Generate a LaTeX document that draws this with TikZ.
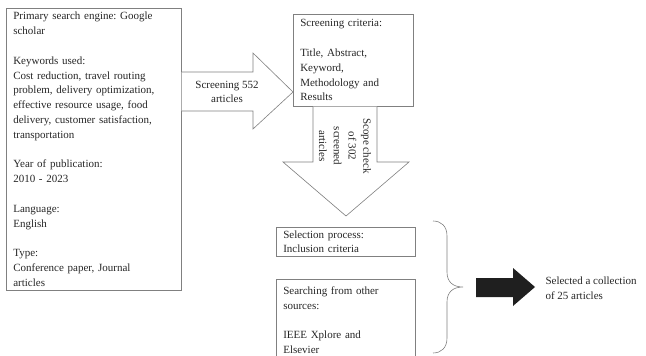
\documentclass[tikz,border=0pt]{standalone}
\usepackage{fontspec}
\setmainfont{Liberation Serif}
\usetikzlibrary{calc}
\frenchspacing
\tikzset{
	box/.style={draw=black!50, line width=0.6pt, anchor=north west, align=left, inner xsep=7pt, inner ysep=2pt, font=\fontsize{11}{14.8}\selectfont, text=black!85},
	blk/.style={draw=black!50, line width=0.6pt, fill=white},
	lbl/.style={align=center, font=\fontsize{11}{14.8}\selectfont, text=black!85}
}

\begin{document}
\begin{tikzpicture}[x=1pt, y=-1pt]
			%%%%% START %%%%%
			\useasboundingbox (0, 0) rectangle (646, 356);
			
			\node[box, text width=161pt, minimum width=175pt, minimum height=282pt] (srch) at (6, 8) {Primary search engine: Google\\scholar\\[\baselineskip]Keywords used:\\Cost reduction, travel routing\\problem, delivery optimization,\\effective resource usage, food\\delivery, customer satisfaction,\\transportation\\[\baselineskip]Year of publication:\\2010 - 2023\\[\baselineskip]Language:\\English\\[\baselineskip]Type:\\Conference paper, Journal\\articles};
			
			\node[box, text width=106pt, minimum width=120pt, minimum height=92pt] (crit) at (293, 14) {Screening criteria:\\[\baselineskip]Title, Abstract,\\Keyword,\\Methodology and\\Results};
			
			\node[box, text width=125pt, minimum width=139pt, minimum height=29pt] (sel) at (276, 227) {Selection process:\\Inclusion criteria};
			\node[box, text width=125pt, minimum width=139pt, minimum height=82pt] (oth) at (276, 279) {Searching from other\\sources:\\[\baselineskip]IEEE Xplore and\\Elsevier};
			
			% screening arrow
			\draw[blk] (srch.east |- 0, 72) -- (253, 72) -- (253, 53) -- (crit.west |- 0, 92) -- (253, 129) -- (253, 111) -- (srch.east |- 0, 111);
			\node[lbl] (scrn) at (227, 92) {Screening 552\\articles};
			
			% scope check arrow
			\draw[blk] (313, 0 |- crit.south) -- (313, 162) -- (283, 162) -- (346, 216) -- (409, 162) -- (377, 162) -- (377, 0 |- crit.south);
			\node[lbl, rotate=-90] (scope) at (345, 146) {Scope check\\of 302\\screened\\articles};
			
			% brace
			\draw[draw=black!50, line width=0.6pt] (433, 221) .. controls (441, 221) and (447, 226) .. (447, 236) -- (447, 272) .. controls (447, 282) and (453, 287) .. (463, 287) .. controls (453, 287) and (447, 292) .. (447, 302) -- (447, 338) .. controls (447, 348) and (441, 353) .. (433, 353);
			
			\fill[black!88] (476, 278) -- (513, 278) -- (513, 268) -- (535, 287) -- (513, 306) -- (513, 297) -- (476, 297) -- cycle;
			\node[lbl, align=left, anchor=west] (res) at (542, 288) {Selected a collection\\of 25 articles};
			
			%%%%% END %%%%%
\end{tikzpicture}
\end{document}
